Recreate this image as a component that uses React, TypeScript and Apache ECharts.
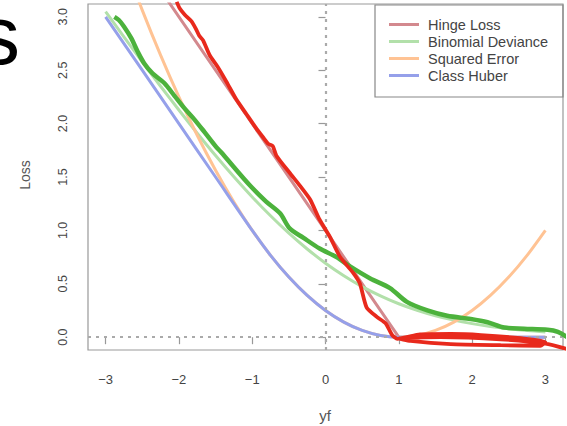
import React, { useEffect, useRef } from "react";
import * as echarts from "echarts";

const xTicks = [-3, -2, -1, 0, 1, 2, 3];
const yTicks = [0, 0.5, 1, 1.5, 2, 2.5, 3];
const legendNames = ["Hinge Loss", "Binomial Deviance", "Squared Error", "Class Huber"];

const hinge: number[][] = [[-2.2, 3.2], [1, 0], [3, 0]];
const binomial: number[][] = [
  [-3, 3.049], [-2.75, 2.812], [-2.5, 2.579], [-2.25, 2.35], [-2, 2.127], [-1.75, 1.91],
  [-1.5, 1.701], [-1.25, 1.502], [-1, 1.313], [-0.75, 1.137], [-0.5, 0.974], [-0.25, 0.826],
  [0, 0.693], [0.25, 0.576], [0.5, 0.474], [0.75, 0.387], [1, 0.313], [1.25, 0.252],
  [1.5, 0.201], [1.75, 0.16], [2, 0.127], [2.25, 0.1], [2.5, 0.079], [2.75, 0.062], [3, 0.049],
];
const squared: number[][] = [
  [-2.75, 3.516], [-2.5, 3.063], [-2.25, 2.641], [-2, 2.25], [-1.75, 1.891], [-1.5, 1.563],
  [-1.25, 1.266], [-1, 1.0], [-0.75, 0.766], [-0.5, 0.563], [-0.25, 0.391], [0, 0.25],
  [0.25, 0.141], [0.5, 0.063], [0.75, 0.016], [1, 0], [1.25, 0.016], [1.5, 0.063],
  [1.75, 0.141], [2, 0.25], [2.25, 0.391], [2.5, 0.563], [2.75, 0.766], [3, 1.0],
];
const huber: number[][] = [
  [-3, 3], [-2.5, 2.5], [-2, 2], [-1.5, 1.5], [-1, 1], [-0.75, 0.766], [-0.5, 0.563],
  [-0.25, 0.391], [0, 0.25], [0.25, 0.141], [0.5, 0.063], [0.75, 0.016], [1, 0],
  [2, 0], [3, 0],
];
const redStroke: number[][] = [
  [-2.03, 3.14], [-1.99, 3.08], [-1.92, 3.02], [-1.83, 2.96], [-1.77, 2.89], [-1.72, 2.82],
  [-1.67, 2.78], [-1.58, 2.64], [-1.47, 2.53], [-1.35, 2.39], [-1.22, 2.23], [-1.08, 2.09],
  [-0.94, 1.95], [-0.85, 1.87], [-0.78, 1.81], [-0.72, 1.79], [-0.67, 1.7], [-0.49, 1.54],
  [-0.35, 1.42], [-0.21, 1.29], [-0.08, 1.1], [0.06, 0.94], [0.2, 0.75], [0.38, 0.6],
  [0.47, 0.5], [0.56, 0.28], [0.7, 0.19], [0.82, 0.13], [0.91, 0.02], [0.98, -0.015],
  [1.29, 0.025], [1.71, 0.03], [2.12, 0.02], [2.66, -0.01], [3.0, -0.045],
  [2.93, -0.08], [2.39, -0.075], [1.71, -0.065], [1.16, -0.035], [0.99, -0.01],
  [1.57, 0.0], [2.39, -0.02], [3.0, -0.06], [3.29, -0.11],
];
const greenStroke: number[][] = [
  [-2.88, 3.0], [-2.82, 2.97], [-2.75, 2.91], [-2.65, 2.8], [-2.56, 2.67], [-2.47, 2.56],
  [-2.36, 2.47], [-2.2, 2.38], [-2.06, 2.26], [-1.92, 2.14], [-1.79, 2.04], [-1.65, 1.92],
  [-1.49, 1.78], [-1.42, 1.73], [-1.26, 1.6], [-1.03, 1.42], [-0.81, 1.27], [-0.62, 1.16],
  [-0.49, 1.02], [-0.3, 0.93], [-0.08, 0.83], [0.15, 0.75], [0.34, 0.66], [0.61, 0.55],
  [0.88, 0.46], [1.11, 0.33], [1.39, 0.25], [1.66, 0.2], [1.98, 0.17], [2.21, 0.14],
  [2.44, 0.09], [2.71, 0.08], [3.03, 0.07], [3.17, 0.05], [3.3, 0.0],
];

const colors = {
  hinge: "#d3898e",
  binomial: "#b2e0aa",
  squared: "#ffc394",
  huber: "#95a0ea",
};

export default function App() {
  const ref = useRef<HTMLDivElement>(null);
  useEffect(() => {
    if (!ref.current) return;
    const chart = echarts.init(ref.current, undefined, { renderer: "svg" });
    const faint = (name: string, data: number[][], color: string, smooth: number | boolean) => ({
      name,
      type: "line",
      data,
      color,
      showSymbol: false,
      symbol: "none",
      smooth,
      lineStyle: { color, width: 3 },
      z: 3,
    });
    chart.setOption({
      animation: false,
      grid: { left: 88, top: 4, right: 4, bottom: 76, show: true, borderColor: "#999", borderWidth: 1.2, backgroundColor: "transparent" },
      xAxis: {
        type: "value",
        min: -3.24,
        max: 3.24,
        axisLine: { show: false },
        splitLine: { show: false },
        axisTick: { show: true, length: 7, lineStyle: { color: "#999", width: 1.2 }, customValues: xTicks },
        axisLabel: {
          customValues: xTicks,
          margin: 23,
          fontSize: 13,
          color: "#444",
          fontFamily: "Liberation Sans",
          formatter: (v: number) => (v < 0 ? "\u2212" + Math.abs(v) : String(v)),
        },
      },
      yAxis: {
        type: "value",
        min: -0.12,
        max: 3.12,
        axisLine: { show: false },
        splitLine: { show: false },
        axisTick: { show: true, length: 7, lineStyle: { color: "#999", width: 1.2 }, customValues: yTicks },
        axisLabel: {
          customValues: yTicks,
          rotate: 90,
          margin: 19,
          fontSize: 12.5,
          color: "#444",
          fontFamily: "Liberation Sans",
          formatter: (v: number) => v.toFixed(1),
        },
      },
      legend: {
        data: legendNames,
        orient: "vertical",
        left: 384,
        top: 12,
        itemWidth: 30,
        itemHeight: 3,
        itemGap: 2,
        icon: "rect",
        textStyle: { fontSize: 14.5, color: "#444", fontFamily: "Liberation Sans", padding: [0, 0, 0, 4] },
      },
      graphic: [
        { type: "rect", shape: { x: 375, y: 5, width: 188, height: 92 }, style: { fill: "none", stroke: "#888", lineWidth: 1.2 }, silent: true, z: 10 },
        { type: "text", x: -22, y: 35, style: { text: "s", font: "84px 'Liberation Sans'", fill: "#000", verticalAlign: "middle" } },
        { type: "text", x: 25, y: 175, rotation: Math.PI / 2, style: { text: "Loss", font: "14px 'Liberation Sans'", fill: "#555", align: "center", verticalAlign: "middle" } },
        { type: "text", x: 325, y: 415, style: { text: "yf", font: "15px 'Liberation Sans'", fill: "#555", align: "center", verticalAlign: "middle" } },
      ],
      series: [
        {
          name: "ref",
          type: "line",
          data: [],
          markLine: {
            silent: true,
            symbol: ["none", "none"],
            label: { show: false },
            lineStyle: { type: [3, 5], color: "#aaa", width: 2.2 },
            data: [{ xAxis: 0 }, { yAxis: 0 }],
          },
          z: 1,
        },
        faint("Hinge Loss", hinge, colors.hinge, false),
        faint("Binomial Deviance", binomial, colors.binomial, 0.3),
        faint("Squared Error", squared, colors.squared, 0.3),
        faint("Class Huber", huber, colors.huber, 0.3),
        {
          name: "green",
          type: "line",
          data: greenStroke,
          symbol: "none",
          smooth: 0.3,
          clip: false,
          lineStyle: { color: "#4cb23c", width: 4.5 },
          z: 5,
        },
        {
          name: "red",
          type: "line",
          data: redStroke,
          symbol: "none",
          smooth: 0.2,
          clip: false,
          lineStyle: { color: "#e8291c", width: 3.8 },
          z: 6,
        },
      ],
    });
    return () => chart.dispose();
  }, []);
  return <div ref={ref} style={{ position: "absolute", left: 0, top: 0, width: 567, height: 426 }} />;
}
